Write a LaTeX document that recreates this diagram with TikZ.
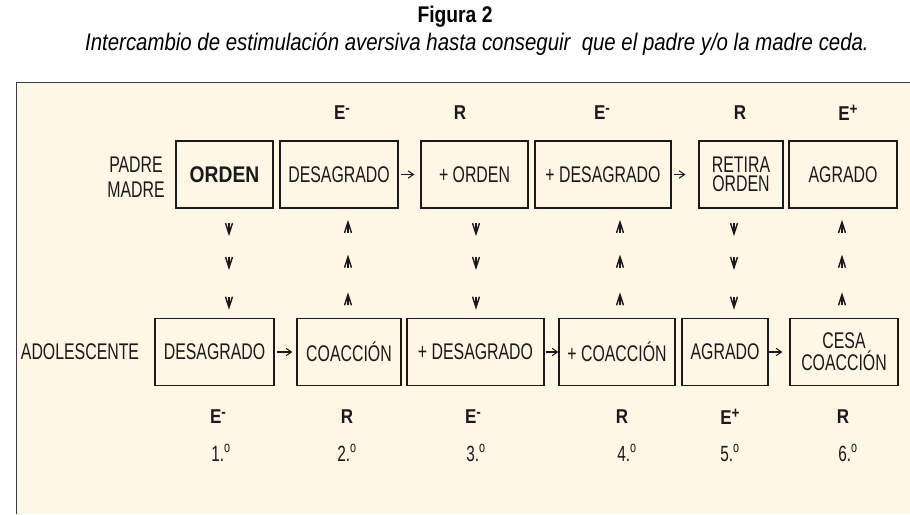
\documentclass[tikz,border=0pt]{standalone}
\usepackage{fontspec}
\setmainfont[FakeStretch=0.7]{Liberation Sans}
\newfontfamily\widerfont[FakeStretch=0.85]{Liberation Sans}
\usetikzlibrary{decorations.markings,arrows.meta}
\definecolor{panel}{HTML}{FFF7E6}
\definecolor{ink}{HTML}{1A1A1A}
\definecolor{frame}{HTML}{3C3C3C}
\newcommand\vtip{\draw[ink,line width=1.1pt] (-4pt,2.6pt) -- (4pt,0pt) -- (-4pt,-2.6pt); \draw[ink,line width=1.1pt] (-4pt,0pt) -- (4pt,0pt);}
\newcommand\sgn[1]{\raisebox{0.32em}{\fontsize{12}{12}\selectfont #1}}
\begin{document}
\begin{tikzpicture}[x=0.75pt,y=-0.75pt,
  box/.style={draw=ink, line width=0.9pt, minimum height=50.25pt, minimum width={#1*0.75pt}, inner sep=0pt, align=center, font=\fontsize{17}{18}\selectfont, text=ink},
  side/.style={font=\fontsize{17}{18.75}\selectfont, align=center, inner sep=0pt, text=ink},
  code/.style={font=\widerfont\bfseries\fontsize{15}{16}\selectfont, inner sep=0pt, text=ink},
  ord/.style={font=\fontsize{16.5}{17}\selectfont, inner sep=0pt, text=ink},
  harrow/.style={draw=ink, line width=0.8pt, -{Straight Barb[length=4pt,width=5.5pt]}},
  downheads/.style={decorate, decoration={markings,
      mark=at position 0.182 with {\vtip},
      mark=at position 0.491 with {\vtip},
      mark=at position 0.855 with {\vtip}}},
  upheads/.style={decorate, decoration={markings,
      mark=at position 0.164 with {\vtip},
      mark=at position 0.509 with {\vtip},
      mark=at position 0.827 with {\vtip}}}
]
\useasboundingbox (0,0) rectangle (910,514);
% panel
\fill[panel] (16,82) rectangle (910,514);
\draw[frame, line width=1.2pt] (16.5,514) -- (16.5,82.5) -- (910,82.5);

% title
\node[font=\widerfont\bfseries\fontsize{17}{19}\selectfont, inner sep=0pt] (title) at (455,17) {Figura 2};
\node[font=\widerfont\itshape\fontsize{18}{20}\selectfont, inner sep=0pt] (subtitle) at (477,44) {Intercambio de estimulación aversiva hasta conseguir\ \ que el padre y/o la madre ceda.};

% top row
\node[box=97, font=\widerfont\bfseries\fontsize{17}{19}\selectfont]  (t1) at (224.5,174.5) {ORDEN};
\node[box=118] (t2) at (339,174.5) {DESAGRADO};
\node[box=107] (t3) at (474.5,174.5) {+ ORDEN};
\node[box=136] (t4) at (603,174.5) {+ DESAGRADO};
\node[box=84, font=\fontsize{17}{14.5}\selectfont] (t5) at (741,174.5) {RETIRA\\ORDEN};
\node[box=108] (t6) at (843,174.5) {AGRADO};

% bottom row
\node[box=119] (b1) at (214.5,352) {DESAGRADO};
\node[box=104] (b2) at (349,352) {COACCIÓN};
\node[box=137] (b3) at (475.5,352) {+ DESAGRADO};
\node[box=116] (b4) at (617,352) {+ COACCIÓN};
\node[box=86]  (b5) at (725,352) {AGRADO};
\node[box=108, font=\fontsize{17}{16.5}\selectfont] (b6) at (844,352) {CESA\\COACCIÓN};

% side labels
\node[side] (padre) at (136,177.5) {PADRE\\MADRE};
\node[side] (adol) at (80,352) {ADOLESCENTE};

% codes top
\node[code] (ct1) at (342,113) {E\sgn{-}};
\node[code] (ct2) at (460,113) {R};
\node[code] (ct3) at (602,113) {E\sgn{-}};
\node[code] (ct4) at (740,113) {R};
\node[code] (ct5) at (848,113) {E\sgn{+}};

% codes bottom
\node[code] (cb1) at (218,417) {E\sgn{-}};
\node[code] (cb2) at (347,417) {R};
\node[code] (cb3) at (473,417) {E\sgn{-}};
\node[code] (cb4) at (622,417) {R};
\node[code] (cb5) at (730,417) {E\sgn{+}};
\node[code] (cb6) at (843,417) {R};

% ordinals
\node[ord] (o1) at (221,453) {1.\textsuperscript{o}};
\node[ord] (o2) at (347,453) {2.\textsuperscript{o}};
\node[ord] (o3) at (476,453) {3.\textsuperscript{o}};
\node[ord] (o4) at (627,453) {4.\textsuperscript{o}};
\node[ord] (o5) at (730,453) {5.\textsuperscript{o}};
\node[ord] (o6) at (848,453) {6.\textsuperscript{o}};

% horizontal arrows
\draw[harrow, shorten <=1.5pt, shorten >=4.5pt] (t2.east) -- (t3.west);
\draw[harrow, shorten <=1.5pt, shorten >=9.75pt] (t4.east) -- (t5.west);
\draw[harrow, shorten <=1.5pt, shorten >=3pt] (b1.east) -- (b2.west);
\draw[harrow, shorten <=0.75pt] (b3.east) -- (b4.west);
\draw[harrow, shorten >=5.25pt] (b5.east) -- (b6.west);

% vertical arrowhead columns
\coordinate (k1) at (229,0);
\coordinate (k2) at (348,0);
\coordinate (k3) at (476,0);
\coordinate (k4) at (620,0);
\coordinate (k5) at (734,0);
\coordinate (k6) at (842,0);
\path[downheads] (t1.south -| k1) -- (b1.north -| k1);
\path[upheads]   (b2.north -| k2) -- (t2.south -| k2);
\path[downheads] (t3.south -| k3) -- (b3.north -| k3);
\path[upheads]   (b4.north -| k4) -- (t4.south -| k4);
\path[downheads] (t5.south -| k5) -- (b5.north -| k5);
\path[upheads]   (b6.north -| k6) -- (t6.south -| k6);
\end{tikzpicture}
\end{document}
